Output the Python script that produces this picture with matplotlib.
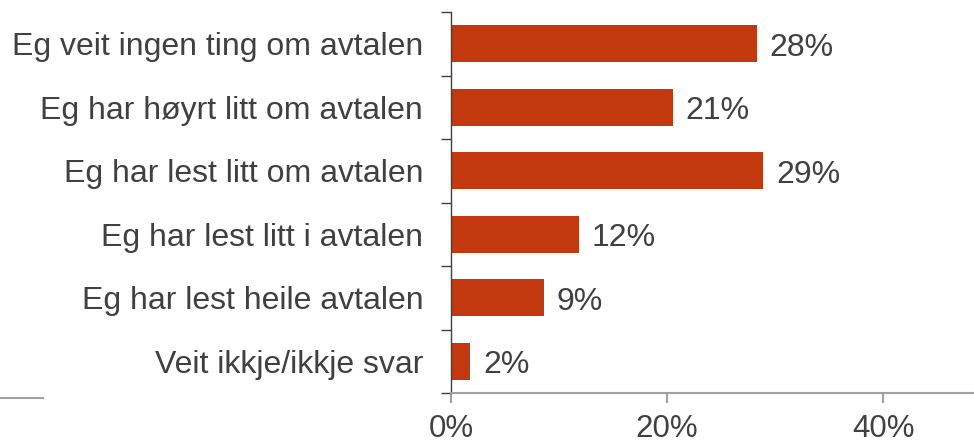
import matplotlib
matplotlib.use("Agg")
import matplotlib.pyplot as plt
from matplotlib.lines import Line2D

categories = [
    "Eg veit ingen ting om avtalen",
    "Eg har høyrt litt om avtalen",
    "Eg har lest litt om avtalen",
    "Eg har lest litt i avtalen",
    "Eg har lest heile avtalen",
    "Veit ikkje/ikkje svar",
]
values = [28.3, 20.5, 28.9, 11.8, 8.6, 1.8]
labels = ["28%", "21%", "29%", "12%", "9%", "2%"]
xticks = [0, 20, 40]
xticklabels = ["0%", "20%", "40%"]

plt.rcParams["font.family"] = ["Liberation Sans", "DejaVu Sans"]
text_color = "#404040"
bar_color = "#C2390F"
fs = 23

fig = plt.figure(figsize=(9.74, 4.44), dpi=100)
ax = fig.add_axes([451 / 974, 1 - 393 / 444, 1 - 451 / 974, (393 - 12) / 444])

y = list(range(len(categories)))
ax.barh(y, values, height=0.58, color=bar_color)
for yi, v, lab in zip(y, values, labels):
    ax.text(v + 1.2, yi + 0.06, lab, va="center", ha="left", fontsize=fs, color=text_color)

ax.set_ylim(len(categories) - 0.5, -0.5)
ax.set_xlim(0, 48.4)
ax.set_yticks(y)
ax.set_yticklabels(categories, fontsize=fs, color=text_color)
ax.tick_params(axis="y", length=0, pad=20)
ax.set_yticks([i - 0.5 for i in range(len(categories) + 1)], minor=True)
ax.tick_params(axis="y", which="minor", length=7, width=1, color="#404040", direction="out")
ax.set_xticks(xticks)
ax.set_xticklabels(xticklabels, fontsize=fs - 0.5, color=text_color)
ax.tick_params(axis="x", length=7, width=1.5, color="#A0A0A0", pad=8)

for s in ["top", "right"]:
    ax.spines[s].set_visible(False)
ax.spines["left"].set_color("#404040")
ax.spines["left"].set_linewidth(1)
ax.spines["bottom"].set_color("#A0A0A0")
ax.spines["bottom"].set_linewidth(1.5)

# stray short gray line at bottom left
fig.add_artist(Line2D([0, 43 / 974], [1 - 398 / 444] * 2, color="#A0A0A0", lw=1.5))

fig.savefig("out.png", dpi=100)
